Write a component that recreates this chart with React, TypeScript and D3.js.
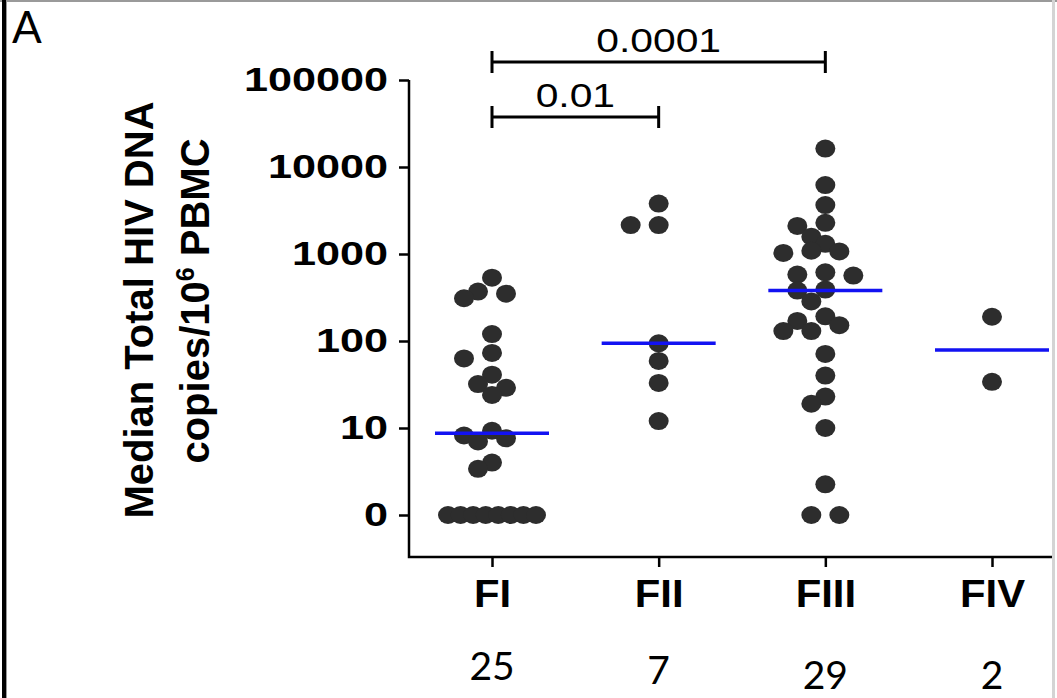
import React, { useEffect, useRef } from 'react';
import * as d3 from 'd3';

// groups on the x axis
const categories = ['FI', 'FII', 'FIII', 'FIV'];

// copies / 10^6 PBMC (0 = below detection, drawn on the "0" row)
const fiValues = [535, 370, 350, 310, 120, 73, 63, 41, 32, 29, 24, 9.3, 8.2, 7.6, 7, 4, 3.4, 0, 0, 0, 0, 0, 0, 0, 0];
const fiiValues = [3800, 2150, 2150, 94, 59, 33, 12];
const fiiiValues = [
  16300, 6200, 3650, 2280, 2100, 1580, 1310, 1090, 1070, 1030, 615, 580, 565, 390, 380,
  285, 192, 170, 152, 130, 130, 71, 40, 23, 19, 10, 2.25, 0, 0,
];
const fivValues = [190, 34];
const medianValues = [8.7, 94, 380, 79];
const groupCounts = ['25', '7', '29', '2'];

const yTickValues = [1, 10, 100, 1000, 10000, 100000];
const yTickLabels = ['0', '10', '100', '1000', '10000', '100000'];

// significance brackets
const pairFrom = ['FI', 'FI'];
const pairTo = ['FII', 'FIII'];
const pairLabels = ['0.01', '0.0001'];

const WIDTH = 1057;
const HEIGHT = 698;
const AXIS_X = 409;
const AXIS_Y = 557;
const DOT_RX = 10;
const DOT_RY = 9;
const JITTER_STEP = 14;
const ZERO_ROW_WIDTH = 88;
const MEDIAN_HALF = 57;
const TICK_STRETCH = 1.27;
const SANS = '"Liberation Sans", Arial, Helvetica, sans-serif';
const COUNT_SHIFT = [0, 4, 9, 9];
const BRACKET_Y = [117, 62];

type Dot = { v: number; x: number; y: number };

// greedy column jitter, roughly what Prism does for scatter plots
const swarm = (values: number[], cx: number, y: (v: number) => number): Dot[] => {
  const placed: Dot[] = [];
  const zeros = values.filter((v) => v <= 0);
  const gap = zeros.length > 1 ? Math.min(JITTER_STEP * 2, ZERO_ROW_WIDTH / (zeros.length - 1)) : 0;
  zeros.forEach((v, i) => placed.push({ v, x: cx + (i - (zeros.length - 1) / 2) * gap, y: y(1) }));

  const rest = values.filter((v) => v > 0).sort((a, b) => b - a);
  rest.forEach((v) => {
    const py = y(v);
    for (let k = 0; k < 40; k++) {
      const off = k === 0 ? 0 : Math.ceil(k / 2) * JITTER_STEP * (k % 2 ? -1 : 1);
      const px = cx + off;
      const hit = placed.some(
        (p) => ((p.x - px) / (2 * DOT_RX)) ** 2 + ((p.y - py) / (2 * DOT_RY)) ** 2 < 0.6
      );
      if (!hit) {
        placed.push({ v, x: px, y: py });
        break;
      }
    }
  });
  return placed;
};

const App = () => {
  const svgRef = useRef<SVGSVGElement>(null);

  useEffect(() => {
    const svg = d3.select(svgRef.current);
    svg.selectAll('*').remove();

    const yScale = d3.scaleLog().domain([1, 100000]).range([515, 80]);
    const yPos = (v: number) => yScale(Math.max(v, 1));
    const xScale = d3.scalePoint<string>().domain(categories).range([492, 992]);

    // picture frame
    svg.append('rect').attr('width', WIDTH).attr('height', HEIGHT).attr('fill', '#fff');
    svg.append('rect').attr('x', 0).attr('y', 0).attr('width', WIDTH).attr('height', 2).attr('fill', '#9a9a9a');
    svg.append('rect').attr('x', 2).attr('y', 0).attr('width', 4).attr('height', HEIGHT).attr('fill', '#000');
    svg.append('rect').attr('x', 6).attr('y', 0).attr('width', 1).attr('height', HEIGHT).attr('fill', '#999');
    svg.append('rect').attr('x', WIDTH - 5).attr('y', 0).attr('width', 3).attr('height', HEIGHT).attr('fill', '#d4d4d4');

    svg
      .append('text')
      .attr('x', 12)
      .attr('y', 43)
      .attr('font-family', 'Lato, "Open Sans", sans-serif')
      .attr('font-size', 44)
      .text('A');

    // y axis
    const yAxisGroup = svg
      .append('g')
      .attr('transform', `translate(${AXIS_X},0)`)
      .call(
        d3
          .axisLeft(yScale)
          .tickValues(yTickValues)
          .tickFormat((d, i) => yTickLabels[i])
          .tickSize(10)
          .tickPadding(11)
      );
    yAxisGroup.select('.domain').remove();
    yAxisGroup.selectAll('line').attr('stroke', '#000').attr('stroke-width', 2.5);
    yAxisGroup
      .selectAll('text')
      .attr('font-family', SANS)
      .attr('font-weight', 'bold')
      .attr('font-size', 34)
      .attr('fill', '#000')
      .attr('x', -21 / TICK_STRETCH)
      .attr('transform', `scale(${TICK_STRETCH},1)`);

    // x axis
    const xAxisGroup = svg
      .append('g')
      .attr('transform', `translate(0,${AXIS_Y})`)
      .call(d3.axisBottom(xScale).tickSize(10).tickPadding(13).tickSizeOuter(0));
    xAxisGroup.select('.domain').remove();
    xAxisGroup.selectAll('line').attr('stroke', '#000').attr('stroke-width', 2.5);
    xAxisGroup
      .selectAll('text')
      .attr('font-family', SANS)
      .attr('font-weight', 'bold')
      .attr('font-size', 38)
      .attr('fill', '#000')
      .attr('transform', 'scale(1.1,1)');

    svg
      .append('path')
      .attr('d', `M${AXIS_X},${yScale(100000)}V${AXIS_Y}H${WIDTH - 5}`)
      .attr('fill', 'none')
      .attr('stroke', '#000')
      .attr('stroke-width', 2.5);

    // y label, two lines
    svg
      .append('text')
      .attr('transform', 'translate(153,310) rotate(-90)')
      .attr('text-anchor', 'middle')
      .attr('font-family', SANS)
      .attr('font-weight', 'bold')
      .attr('font-size', 40)
      .text('Median Total HIV DNA');
    const label2 = svg
      .append('text')
      .attr('transform', 'translate(209,301) rotate(-90)')
      .attr('text-anchor', 'middle')
      .attr('font-family', SANS)
      .attr('font-weight', 'bold')
      .attr('font-size', 40)
      .style('white-space', 'pre');
    label2.append('tspan').text('copies/10');
    label2.append('tspan').attr('font-size', 25).attr('dy', -15).text('6');
    label2.append('tspan').attr('dy', 15).text(' PBMC');

    // dots
    const groups = [fiValues, fiiValues, fiiiValues, fivValues];
    groups.forEach((values, gi) => {
      const dots = swarm(values, xScale(categories[gi]) as number, yPos);
      svg
        .append('g')
        .selectAll('ellipse')
        .data(dots)
        .enter()
        .append('ellipse')
        .attr('cx', (d) => d.x)
        .attr('cy', (d) => d.y)
        .attr('rx', DOT_RX)
        .attr('ry', DOT_RY)
        .attr('fill', '#2d2d2d');
    });

    // medians
    svg
      .append('g')
      .selectAll('line')
      .data(medianValues)
      .enter()
      .append('line')
      .attr('x1', (d, i) => (xScale(categories[i]) as number) - MEDIAN_HALF)
      .attr('x2', (d, i) => (xScale(categories[i]) as number) + MEDIAN_HALF)
      .attr('y1', (d) => yPos(d))
      .attr('y2', (d) => yPos(d))
      .attr('stroke', '#1212f2')
      .attr('stroke-width', 3.5);

    // brackets
    pairLabels.forEach((p, i) => {
      const x1 = xScale(pairFrom[i]) as number;
      const x2 = xScale(pairTo[i]) as number;
      const by = BRACKET_Y[i];
      svg
        .append('path')
        .attr('d', `M${x1},${by - 11}V${by + 11}M${x1},${by}H${x2}M${x2},${by - 11}V${by + 11}`)
        .attr('fill', 'none')
        .attr('stroke', '#000')
        .attr('stroke-width', 3);
      svg
        .append('text')
        .attr('transform', `translate(${(x1 + x2) / 2},${by - 10}) scale(1.2,1)`)
        .attr('text-anchor', 'middle')
        .attr('font-family', SANS)
        .attr('font-size', 34)
        .text(p);
    });

    // n per group
    svg
      .append('g')
      .selectAll('text')
      .data(groupCounts)
      .enter()
      .append('text')
      .attr('x', (d, i) => xScale(categories[i]) as number)
      .attr('y', (d, i) => 680 + COUNT_SHIFT[i])
      .attr('text-anchor', 'middle')
      .attr('font-family', 'Lato, "Open Sans", sans-serif')
      .attr('font-size', 39)
      .text((d) => d);
  }, []);

  return (
    <svg
      ref={svgRef}
      width={WIDTH}
      height={HEIGHT}
      style={{ position: 'absolute', left: 0, top: 0, display: 'block' }}
    />
  );
};

export default App;
